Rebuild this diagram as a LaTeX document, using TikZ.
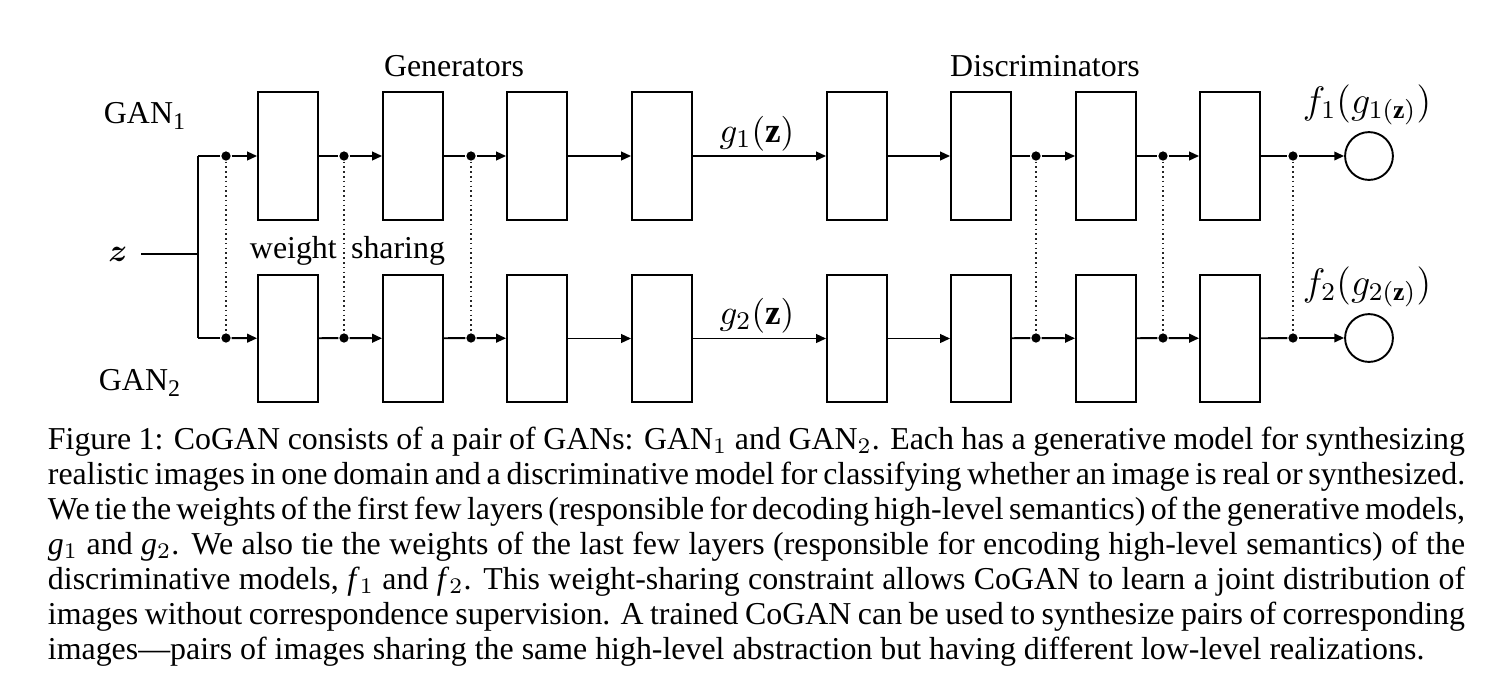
\documentclass[tikz,border=0pt]{standalone}
\usepackage{amsmath}
\usepackage{fontspec}
\setmainfont{Liberation Serif}
\usetikzlibrary{arrows.meta}
\begin{document}
\begin{tikzpicture}[x=0.3136pt,y=-0.3136pt,
  line width=0.6pt,
  layer/.style={draw,rectangle,minimum width=18.8pt,minimum height=40.1pt,inner sep=0pt},
  outc/.style={draw,circle,minimum size=15pt,inner sep=0pt},
  dot/.style={circle,fill,minimum size=2.9pt,inner sep=0pt},
  arr/.style={-{Triangle[length=3.1pt,width=2.7pt]}},
  tie/.style={densely dotted,line width=0.5pt,black!85},
  lbl/.style={font=\fontsize{10}{12}\selectfont,inner sep=0pt,anchor=base},
  capline/.style={font=\fontsize{10}{11}\selectfont,inner sep=0pt,anchor=base west}]
\useasboundingbox (0,0) rectangle (1511,683);
% layers
\foreach \n/\x in {1/288,2/413,3/537,4/662,5/857,6/981,7/1106,8/1230}{
  \node[layer] (t\n) at (\x,156) {};
  \node[layer] (b\n) at (\x,338.5) {};
}
\node[outc] (o1) at (1369,156) {};
\node[outc] (o2) at (1369,338) {};
% dots
\foreach \n/\x in {1/226,2/344,3/471,4/1036,5/1163,6/1293}{
  \node[dot] (dt\n) at (\x,156) {};
  \node[dot] (db\n) at (\x,338) {};
}
% input
\node[inner sep=4pt] (z) at (118,254) {$\boldsymbol{z}$};
\coordinate (zj) at (198,254);
\coordinate (zt) at (198,156);
\coordinate (zb) at (198,338);
\draw (z.east) -- (zj);
\draw (zt) -- (zb);
% rows
\foreach \r in {t,b}{
  \draw (z\r) -- (d\r1);
  \draw[arr] (d\r1) -- (\r1);
  \draw (\r1) -- (d\r2);
  \draw[arr] (d\r2) -- (\r2);
  \draw (\r2) -- (d\r3);
  \draw[arr] (d\r3) -- (\r3);
  \draw[arr] (\r3) -- (\r4);
  \draw[arr] (\r4) -- (\r5);
  \draw[arr] (\r5) -- (\r6);
  \draw (\r6) -- (d\r4);
  \draw[arr] (d\r4) -- (\r7);
  \draw (\r7) -- (d\r5);
  \draw[arr] (d\r5) -- (\r8);
  \draw (\r8) -- (d\r6);
}
\draw[arr] (dt6) -- (o1);
\draw[arr] (db6) -- (o2);
% weight ties
\foreach \n in {1,...,6}{ \draw[tie] (dt\n) -- (db\n); }
% labels
\node[lbl] (gen) at (454,76) {Generators};
\node[lbl] (dis) at (1045,76) {Discriminators};
\node[lbl,anchor=base west] (gan1) at (103,123) {GAN\raisebox{-0.45ex}{\fontsize{7.5}{8}\selectfont 1}};
\node[lbl,anchor=base west] (gan2) at (98,390) {GAN\raisebox{-0.45ex}{\fontsize{7.5}{8}\selectfont 2}};
\node[lbl] (ws) at (347.5,258) {weight\hspace{0.45em}sharing};
\node[lbl,font=\fontsize{11}{13}\selectfont] (g1l) at (757,142) {$g_1(\mathbf{z})$};
\node[lbl,font=\fontsize{11}{13}\selectfont] (g2l) at (757,324) {$g_2(\mathbf{z})$};
\node[lbl,font=\fontsize{11.5}{13}\selectfont] (f1l) at (1367,113) {$f_1(g_{1(\mathbf{z})})$};
\node[lbl,font=\fontsize{11.5}{13}\selectfont] (f2l) at (1367,295) {$f_2(g_{2(\mathbf{z})})$};
% caption
\node[capline] (c1) at (47,449) {\makebox[444.4pt][s]{Figure 1: CoGAN consists of a pair of GANs: GAN$_1$ and GAN$_2$. Each has a generative model for synthesizing}};
\node[capline] (c2) at (47,484) {\makebox[444.4pt][s]{realistic images in one domain and a discriminative model for classifying whether an image is real or synthesized.}};
\node[capline] (c3) at (47,519) {\makebox[444.4pt][s]{We tie the weights of the first few layers (responsible for decoding high-level semantics) of the generative models,}};
\node[capline] (c4) at (47,554) {\makebox[444.4pt][s]{\textit{g}$_1$ and \textit{g}$_2$. We also tie the weights of the last few layers (responsible for encoding high-level semantics) of the}};
\node[capline] (c5) at (47,589) {\makebox[444.4pt][s]{discriminative models, \textit{f}$_1$ and \textit{f}$_2$. This weight-sharing constraint allows CoGAN to learn a joint distribution of}};
\node[capline] (c6) at (47,624) {\makebox[444.4pt][s]{images without correspondence supervision. A trained CoGAN can be used to synthesize pairs of corresponding}};
\node[capline] (c7) at (47,659) {images---pairs of images sharing the same high-level abstraction but having different low-level realizations.};
\end{tikzpicture}
\end{document}
